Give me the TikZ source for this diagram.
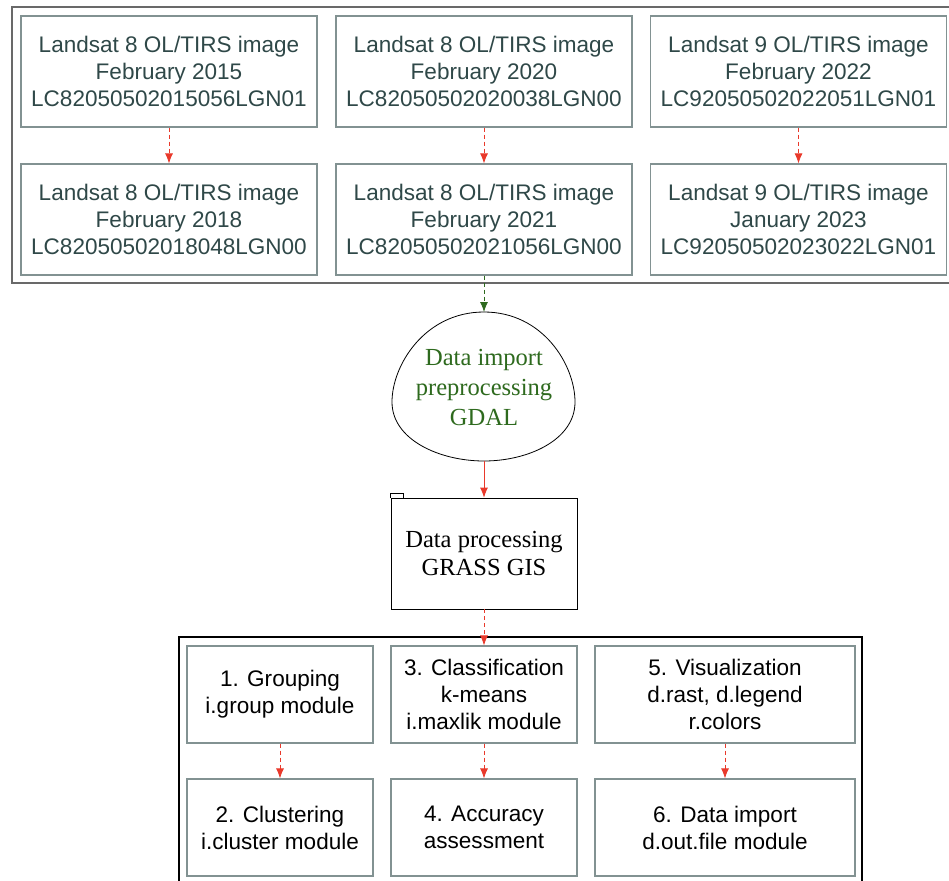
\documentclass[tikz,border=0pt]{standalone}
\usepackage{fontspec}
\setmainfont{Liberation Serif}
\setsansfont{Liberation Sans}
\usepackage{xcolor}
\usetikzlibrary{arrows.meta,positioning}
\definecolor{slate}{RGB}{47,72,72}
\definecolor{boxgray}{RGB}{130,146,146}
\definecolor{framegray}{RGB}{105,105,105}
\definecolor{flowred}{RGB}{233,57,43}
\definecolor{gdalgreen}{RGB}{46,106,30}
\tikzset{%
	landsat/.style = {draw=boxgray, line width=0.9pt, rectangle, minimum width=222pt, minimum height=83.25pt, text centered, align=center, text=slate, font=\sffamily\fontsize{16.9}{20.3}\selectfont},
	module/.style  = {draw=boxgray, line width=0.9pt, rectangle, minimum width=139.5pt, minimum height=72.75pt, text centered, align=center, text=black, font=\sffamily\fontsize{16.9}{20.3}\selectfont},
	folder/.style  = {draw=black, line width=0.6pt, rectangle, minimum width=139.5pt, minimum height=83.25pt, text centered, align=center, font=\fontsize{18.4}{21}\selectfont},
	gdaltext/.style= {align=center, text=gdalgreen, font=\fontsize{18.4}{22.5}\selectfont},
	reddash/.style = {flowred, line width=0.6pt, dash pattern=on 3pt off 2.25pt, -{Latex[length=7.5pt,width=6pt]}},
	redline/.style = {flowred, line width=0.6pt, -{Latex[length=7.5pt,width=6pt]}},
	greendash/.style = {gdalgreen, line width=0.6pt, dash pattern=on 3pt off 2.25pt, -{Latex[length=7.5pt,width=6pt]}},
}
\begin{document}
\begin{tikzpicture}[x=0.75pt,y=-0.75pt]
	\clip (0,0) rectangle (949,881);
	\fill[white] (0,0) rectangle (949,881);
	\draw[framegray, line width=1.1pt] (12,7) rectangle (960,283);
	\node[landsat] (l2015) at (169,71.5) {Landsat 8 OL/TIRS image\\February 2015\\LC82050502015056LGN01};
	\node[landsat] (l2018) at (169,219.5) {Landsat 8 OL/TIRS image\\February 2018\\LC82050502018048LGN00};
	\node[landsat] (l2020) at (484,71.5) {Landsat 8 OL/TIRS image\\February 2020\\LC82050502020038LGN00};
	\node[landsat] (l2021) at (484,219.5) {Landsat 8 OL/TIRS image\\February 2021\\LC82050502021056LGN00};
	\node[landsat] (l2022) at (798.5,71.5) {Landsat 9 OL/TIRS image\\February 2022\\LC92050502022051LGN01};
	\node[landsat] (l2023) at (798.5,219.5) {Landsat 9 OL/TIRS image\\January 2023\\LC92050502023022LGN01};
	\draw[reddash] (l2015) -- (l2018);
	\draw[reddash] (l2020) -- (l2021);
	\draw[reddash] (l2022) -- (l2023);
	
	\coordinate (gdaltop) at (484,312);
	\coordinate (gdalbot) at (484,461);
	\draw[line width=0.6pt] (gdaltop) .. controls (425,312) and (392,365) .. (392,402) .. controls (392,440) and (440,461) .. (gdalbot) .. controls (528,461) and (575,440) .. (575,402) .. controls (575,365) and (543,312) .. (gdaltop) -- cycle;
	\node[gdaltext] (gdal) at (484,387) {Data import\\preprocessing\\GDAL};
	\draw[greendash] (l2021) -- (gdaltop);
	
	\node[folder] (grass) at (484,553.5) {Data processing\\GRASS GIS};
	\draw[line width=0.6pt] (grass.north west) -- ++(0,-4) -- ++(13,0) -- ++(0,4);
	\draw[redline] (gdalbot) -- (grass);
	
	\draw[black, line width=0.8pt] (179,637) rectangle (862,895);
	\node[module] (group) at (280,694.5) {1. Grouping\\i.group module};
	\node[module] (clust) at (280,827.5) {2. Clustering\\i.cluster module};
	\node[module] (cls) at (484,694.5) {3. Classification\\k-means\\i.maxlik module};
	\node[module] (acc) at (484,827.5) {4. Accuracy\\assessment};
	\node[module, minimum width=195pt] (vis) at (725,694.5) {5. Visualization\\d.rast, d.legend\\r.colors};
	\node[module, minimum width=195pt] (dout) at (725,827.5) {6. Data import\\d.out.file module};
	\draw[reddash] (grass) -- (cls);
	\draw[reddash] (group) -- (clust);
	\draw[reddash] (cls) -- (acc);
	\draw[reddash] (vis) -- (dout);
\end{tikzpicture}
\end{document}
